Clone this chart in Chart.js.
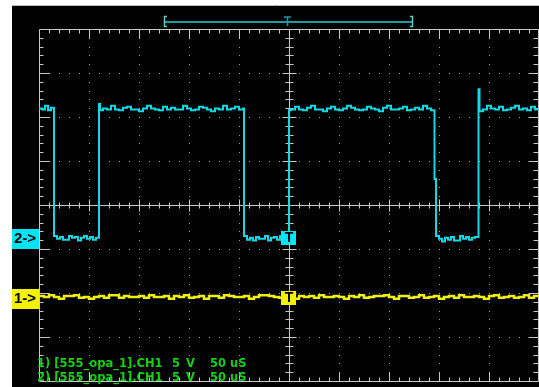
<!DOCTYPE html>
<html>
<head>
<meta charset="utf-8">
<script src="https://cdn.jsdelivr.net/npm/chart.js@4.4.1/dist/chart.umd.min.js"></script>
<style>
  html, body { margin: 0; padding: 0; background: #fff; }
  #scope { display: block; }
</style>
</head>
<body>
<canvas id="scope" width="539" height="387"></canvas>
<script>
// Scope capture: 50 uS/div, 5 V/div, 10 x 8 divisions
const timeMajor = [-250, -200, -150, -100, -50, 0, 50, 100, 150, 200, 250];
const divMajor = [-4, -3, -2, -1, 0, 1, 2, 3, 4];
const voltsPerDiv = 5;

// CH2 (cyan) - 555 output, time in uS, value in V
const ch2Time = [
  -250, -247, -244, -241, -238, -235,
  -235,
  -232, -229, -226, -223, -220, -217, -214, -211, -208, -205, -202, -199, -196, -193, -190,
  -190, -189,
  -186, -182, -178, -174, -170, -166, -162, -158, -154, -150, -146, -142, -138, -134, -130, -126, -122, -118,
  -114, -110, -106, -102, -98, -94, -90, -86, -82, -78, -74, -70, -66, -62, -58, -54, -50, -46,
  -45, -45,
  -42, -39, -36, -33, -30, -27, -24, -21, -18, -15, -12, -9, -6, -3,
  0, 0,
  2, 6, 10, 14, 18, 22, 26, 30, 34, 38, 42, 46, 50, 54, 58, 62, 66, 70,
  74, 78, 82, 86, 90, 94, 98, 102, 106, 110, 114, 118, 122, 126, 130, 134, 138, 142,
  145.5, 145.5, 147, 147,
  150, 153, 156, 159, 162, 165, 168, 171, 174, 177, 180, 183, 186,
  189.5, 189.5, 190.5,
  194, 198, 202, 206, 210, 214, 218, 222, 226, 230, 234, 238, 242, 246, 250
];
const ch2Volts = [
  14.6, 14.5, 14.9, 14.4, 14.7, 14.5,
  0.1,
  -0.2, 0.0, -0.3, -0.3, 0.1, -0.1, 0.0, -0.4, -0.1, 0.1, -0.2, 0.0, -0.3, -0.1, 0.1,
  15.1, 14.4,
  14.6, 14.5, 14.9, 14.5, 14.4, 14.7, 14.8, 14.5, 14.5, 14.3, 14.6, 14.9, 14.6, 14.5, 14.4, 14.8, 14.5, 14.7,
  14.5, 14.5, 14.9, 14.6, 14.4, 14.5, 14.8, 14.7, 14.5, 14.3, 14.6, 14.5, 14.9, 14.5, 14.6, 14.8, 14.5, 14.6,
  14.4, 0.1,
  -0.3, -0.1, -0.4, 0.0, -0.2, -0.2, 0.1, -0.4, -0.1, 0.0, -0.3, 0.1, -0.2, 0.0,
  0.1, 14.4,
  14.5, 14.8, 14.5, 14.4, 14.7, 14.9, 14.5, 14.5, 14.3, 14.6, 14.8, 14.5, 14.4, 14.6, 14.9, 14.7, 14.5, 14.4,
  14.5, 14.8, 14.6, 14.5, 14.3, 14.7, 14.9, 14.5, 14.5, 14.6, 14.8, 14.4, 14.5, 14.7, 14.5, 14.9, 14.6, 14.4,
  14.4, 6.6, 6.6, 0.1,
  -0.2, -0.5, -0.1, -0.3, 0.0, -0.4, -0.4, 0.1, -0.2, 0.0, -0.3, -0.1, 0.0,
  0.0, 16.8, 14.3,
  14.5, 14.9, 14.6, 14.5, 14.8, 14.4, 14.5, 14.7, 14.9, 14.5, 14.6, 14.4, 14.8, 14.5, 14.6
];

// CH1 (yellow) - flat, noisy around 0 V
const ch1Time = [
  -250, -245, -240, -235, -230, -225, -220, -215, -210, -205, -200, -195, -190, -185, -180, -175, -170, -165, -160, -155, -150,
  -145, -140, -135, -130, -125, -120, -115, -110, -105, -100, -95, -90, -85, -80, -75, -70, -65, -60, -55, -50,
  -45, -40, -35, -30, -25, -20, -15, -10, -5, 0, 5, 10, 15, 20, 25, 30, 35, 40, 45, 50,
  55, 60, 65, 70, 75, 80, 85, 90, 95, 100, 105, 110, 115, 120, 125, 130, 135, 140, 145, 150,
  155, 160, 165, 170, 175, 180, 185, 190, 195, 200, 205, 210, 215, 220, 225, 230, 235, 240, 245, 250
];
const ch1Volts = [
  0.1, 0.0, 0.2, 0.0, -0.2, 0.1, 0.1, 0.2, -0.1, 0.0, -0.2, 0.0, 0.1, -0.1, 0.2, 0.2, -0.1, 0.1, 0.0, 0.0, 0.1,
  -0.1, 0.2, 0.0, 0.0, 0.1, -0.2, 0.1, 0.0, 0.2, -0.1, 0.0, 0.1, -0.2, 0.1, 0.1, -0.1, 0.2, 0.1, 0.0, 0.0,
  0.1, -0.2, 0.0, 0.2, 0.2, 0.1, 0.0, -0.1, 0.2, 0.0, -0.2, 0.1, 0.0, 0.1, -0.1, 0.2, 0.0, 0.0, 0.1, 0.0,
  -0.2, 0.1, 0.0, 0.2, -0.1, 0.0, 0.1, 0.1, 0.2, 0.0, -0.2, 0.1, 0.1, -0.1, 0.0, 0.2, -0.1, 0.0, 0.1, -0.2,
  0.0, 0.1, -0.1, 0.2, 0.0, 0.0, 0.1, 0.0, -0.2, 0.1, 0.2, -0.1, 0.0, 0.1, -0.1, 0.0, 0.2, -0.1, 0.1, 0.0
];

// channel ground positions, in divisions from screen centre
const ch1ZeroDiv = -2.09;
const ch2ZeroDiv = -0.727;

const infoLines = [
  ['1) [555_opa_1].CH1', '5', 'V', '50 uS'],
  ['2) [555_opa_1].CH1', '5', 'V', '50 uS']
];

function toPoints(times, volts) {
  return times.map((t, i) => ({ x: t, y: volts[i] }));
}

function channelRange(zeroDiv) {
  return { min: (-4 - zeroDiv) * voltsPerDiv, max: (4 - zeroDiv) * voltsPerDiv };
}

const GRAT = '#c8c8c8';

const scopeScreen = {
  id: 'scopeScreen',
  beforeDraw(chart) {
    const ctx = chart.ctx;
    ctx.save();
    ctx.fillStyle = '#ffffff';
    ctx.fillRect(0, 0, chart.width, chart.height);
    ctx.fillStyle = '#000000';
    ctx.fillRect(12, 5, chart.width - 12, chart.height - 5);
    ctx.strokeStyle = '#bdbdbd';
    ctx.lineWidth = 1;
    ctx.beginPath();
    ctx.moveTo(12, 5.5);
    ctx.lineTo(chart.width, 5.5);
    ctx.stroke();
    ctx.restore();
  },
  beforeDatasetsDraw(chart) {
    const ctx = chart.ctx;
    const xs = chart.scales.x, gs = chart.scales.div;
    const a = chart.chartArea;
    const px = t => Math.round(xs.getPixelForValue(t)) + 0.5;
    const py = d => Math.round(gs.getPixelForValue(d)) + 0.5;
    const left = px(-250), right = a.right - 0.5, top = py(4), bottom = py(-4);
    const cx = px(0), cy = py(0);
    ctx.save();

    // dotted major lines
    ctx.fillStyle = '#a0a0a0';
    timeMajor.forEach(t => {
      if (t === 0 || Math.abs(t) === 250) return;
      for (let i = -20; i <= 20; i++) {
        ctx.fillRect(px(t) - 0.5, py(i / 5) - 0.5, 1, 1);
      }
    });
    divMajor.forEach(d => {
      if (d === 0 || Math.abs(d) === 4) return;
      for (let t = -250; t <= 250; t += 10) {
        ctx.fillRect(px(t) - 0.5, py(d) - 0.5, 1, 1);
      }
    });

    ctx.strokeStyle = GRAT;
    ctx.lineWidth = 1;
    ctx.beginPath();
    // frame
    ctx.moveTo(left, top); ctx.lineTo(right, top);
    ctx.moveTo(left, top); ctx.lineTo(left, bottom);
    ctx.moveTo(right, top); ctx.lineTo(right, bottom);
    ctx.moveTo(left, bottom); ctx.lineTo(right, bottom);
    // centre axes
    ctx.moveTo(left, cy); ctx.lineTo(right, cy);
    ctx.moveTo(cx, top); ctx.lineTo(cx, bottom);

    // ticks along time direction
    for (let t = -240; t <= 240; t += 10) {
      const major = t % 50 === 0;
      const x = px(t);
      ctx.moveTo(x, top); ctx.lineTo(x, top + (major ? 9 : 4));
      ctx.moveTo(x, bottom); ctx.lineTo(x, bottom - (major ? 9 : 4));
      const h = major ? 6 : 3;
      ctx.moveTo(x, cy - h); ctx.lineTo(x, cy + h);
    }
    // ticks along vertical direction
    for (let i = -19; i <= 19; i++) {
      const major = i % 5 === 0;
      const y = py(i / 5);
      ctx.moveTo(left, y); ctx.lineTo(left + (major ? 10 : 4), y);
      ctx.moveTo(right, y); ctx.lineTo(right - (major ? 10 : 5), y);
      const w = major ? 7 : 4;
      ctx.moveTo(cx - w, y); ctx.lineTo(cx + w, y);
    }
    ctx.stroke();
    ctx.restore();
  },
  afterDatasetsDraw(chart) {
    const ctx = chart.ctx;
    const xs = chart.scales.x;
    const cx = Math.round(xs.getPixelForValue(0));
    const chans = [
      { label: '1->', zero: chart.scales.y1.getPixelForValue(0), fill: '#f2f200' },
      { label: '2->', zero: chart.scales.y2.getPixelForValue(0), fill: '#00e4f4' }
    ];
    ctx.save();
    chans.forEach(c => {
      const zy = Math.round(c.zero);
      // trigger marker
      ctx.fillStyle = c.fill;
      ctx.fillRect(cx - 8, zy - 6, 15, 14);
      ctx.fillStyle = '#000';
      ctx.font = 'bold 14px "Liberation Sans", Arial, sans-serif';
      ctx.textAlign = 'center';
      ctx.textBaseline = 'middle';
      ctx.fillText('T', cx, zy + 1.5);
      // ground marker
      ctx.fillStyle = c.fill;
      ctx.fillRect(12, zy - 8, 27, 20);
      ctx.fillStyle = '#000';
      ctx.font = 'bold 15px "Liberation Sans", Arial, sans-serif';
      ctx.textAlign = 'left';
      ctx.fillText(c.label, 14, zy + 2);
    });

    // channel info text
    ctx.fillStyle = '#12d012';
    ctx.font = 'bold 11.5px "DejaVu Sans", sans-serif';
    ctx.textAlign = 'left';
    ctx.textBaseline = 'alphabetic';
    const cols = [37, 172, 186, 210];
    infoLines.forEach((line, r) => {
      line.forEach((s, k) => ctx.fillText(s, cols[k], 367 + r * 14));
    });

    // memory window bar
    ctx.strokeStyle = '#1a9aa2';
    ctx.lineWidth = 2;
    ctx.beginPath();
    ctx.moveTo(165, 22); ctx.lineTo(412, 22);
    ctx.stroke();
    ctx.strokeStyle = '#6fc6c8';
    ctx.lineWidth = 1.5;
    ctx.beginPath();
    ctx.moveTo(167, 16.5); ctx.lineTo(164.5, 16.5); ctx.lineTo(164.5, 26.5); ctx.lineTo(167, 26.5);
    ctx.moveTo(410, 16.5); ctx.lineTo(412.5, 16.5); ctx.lineTo(412.5, 26.5); ctx.lineTo(410, 26.5);
    ctx.stroke();
    ctx.strokeStyle = '#1a9aa2';
    ctx.beginPath();
    ctx.moveTo(284, 17); ctx.lineTo(291, 17);
    ctx.moveTo(287.5, 17); ctx.lineTo(287.5, 26);
    ctx.stroke();
    ctx.restore();
  }
};

const r1 = channelRange(ch1ZeroDiv);
const r2 = channelRange(ch2ZeroDiv);

new Chart(document.getElementById('scope'), {
  type: 'line',
  data: {
    datasets: [
      {
        label: 'CH1',
        data: toPoints(ch1Time, ch1Volts),
        yAxisID: 'y1',
        borderColor: '#eeee10',
        borderWidth: 2.5,
        pointRadius: 0,
        stepped: true
      },
      {
        label: 'CH2',
        data: toPoints(ch2Time, ch2Volts),
        yAxisID: 'y2',
        borderColor: '#14d8e2',
        borderWidth: 2,
        pointRadius: 0,
        stepped: true
      }
    ]
  },
  options: {
    responsive: false,
    animation: false,
    layout: { padding: { left: 39, top: 29, right: 0, bottom: 6 } },
    plugins: { legend: { display: false }, tooltip: { enabled: false } },
    scales: {
      x: { type: 'linear', axis: 'x', min: -250, max: 250, display: false },
      div: { type: 'linear', axis: 'y', min: -4, max: 4, display: false },
      y1: { type: 'linear', axis: 'y', min: r1.min, max: r1.max, display: false },
      y2: { type: 'linear', axis: 'y', min: r2.min, max: r2.max, display: false }
    }
  },
  plugins: [scopeScreen]
});
</script>
</body>
</html>
